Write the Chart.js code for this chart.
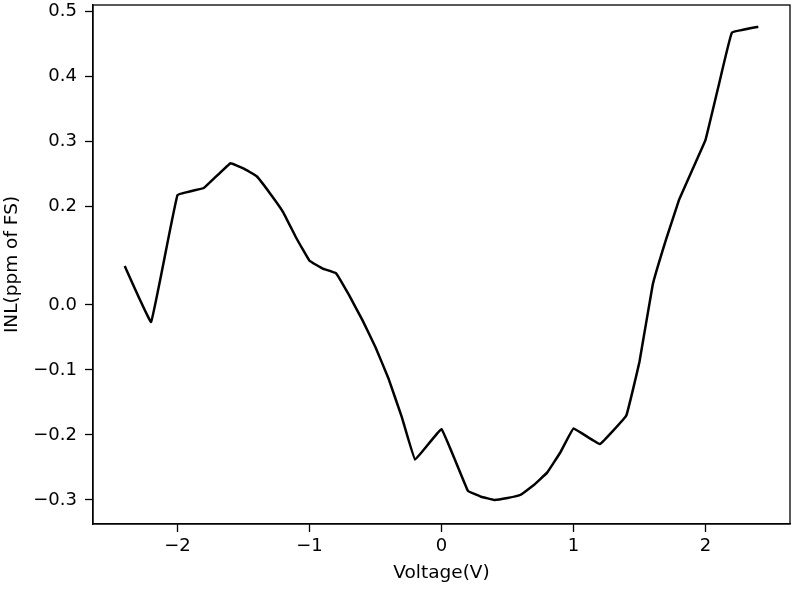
<!DOCTYPE html>
<html>
<head>
<meta charset="utf-8">
<script src="https://cdn.jsdelivr.net/npm/chart.js@4/dist/chart.umd.min.js"></script>
<style>
  html, body { margin: 0; padding: 0; background: #ffffff; }
  #wrap { width: 795px; height: 589px; }
</style>
</head>
<body>
<div id="wrap"><canvas id="inl"></canvas></div>
<script>
// voltage (V) and INL readings, y in the plot's own linear coordinate
const voltage = [-2.4, -2.2, -2.0, -1.8, -1.6, -1.5, -1.4, -1.3, -1.2, -1.1, -1.0, -0.9, -0.8, -0.7, -0.6, -0.5, -0.4, -0.3, -0.2, 0.0, 0.2, 0.3, 0.4, 0.5, 0.6, 0.7, 0.8, 0.9, 1.0, 1.2, 1.4, 1.5, 1.6, 1.7, 1.8, 1.9, 2.0, 2.1, 2.2, 2.4];
const inl = [0.060, -0.026, 0.169, 0.180, 0.218, 0.210, 0.198, 0.172, 0.143, 0.103, 0.068, 0.056, 0.049, 0.015, -0.023, -0.065, -0.114, -0.173, -0.238, -0.191, -0.286, -0.295, -0.300, -0.297, -0.292, -0.277, -0.258, -0.227, -0.190, -0.214, -0.170, -0.087, 0.031, 0.100, 0.162, 0.208, 0.254, 0.338, 0.419, 0.428];

// tick marks as printed on the original figure
const xTickValues = [-2, -1, 0, 1, 2];
const xTickLabels = ['\u22122', '\u22121', '0', '1', '2'];
const yTickValues = [-0.3, -0.2, -0.1, 0.0, 0.152, 0.252, 0.352, 0.452];
const yTickLabels = ['\u22120.3', '\u22120.2', '\u22120.1', '0.0', '0.2', '0.3', '0.4', '0.5'];

const points = voltage.map((v, i) => ({ x: v, y: inl[i] }));

const fontFamily = '"DejaVu Sans", sans-serif';

// draws the top and right spines like matplotlib's box
const frameBox = {
    id: 'frameBox',
    afterDraw(chart) {
        const { ctx, chartArea: a } = chart;
        ctx.save();
        ctx.strokeStyle = '#000';
        ctx.lineWidth = 1.3;
        ctx.strokeRect(a.left, a.top, a.right - a.left, a.bottom - a.top);
        ctx.restore();
    }
};

const pickLabel = (values, labels) => function (value) {
    const i = values.findIndex(t => Math.abs(t - value) < 1e-6);
    return i >= 0 ? labels[i] : '';
};

new Chart(document.getElementById('inl'), {
    type: 'line',
    data: {
        datasets: [{
            data: points,
            borderColor: '#000000',
            borderWidth: 2.5,
            pointRadius: 0,
            tension: 0.06,
            borderJoinStyle: 'round',
            fill: false
        }]
    },
    options: {
        responsive: true,
        maintainAspectRatio: false,
        animation: false,
        layout: { padding: { top: 5, right: 5, left: 0, bottom: 0 } },
        plugins: {
            legend: { display: false },
            tooltip: { enabled: false }
        },
        scales: {
            x: {
                type: 'linear',
                min: -2.64,
                max: 2.64,
                afterBuildTicks: s => { s.ticks = xTickValues.map(v => ({ value: v })); },
                afterFit: s => { s.height = 65; s.paddingLeft = 0; s.paddingRight = 0; },
                grid: { drawOnChartArea: false, tickLength: 8, tickColor: '#000', tickWidth: 1.3 },
                border: { color: '#000', width: 1.3 },
                ticks: {
                    color: '#000',
                    padding: 4,
                    maxRotation: 0,
                    font: { family: fontFamily, size: 18 },
                    callback: pickLabel(xTickValues, xTickLabels)
                },
                title: {
                    display: true,
                    text: 'Voltage(V)',
                    color: '#000',
                    font: { family: fontFamily, size: 18.5 },
                    padding: { top: 0, bottom: 5 }
                }
            },
            y: {
                type: 'linear',
                min: -0.337,
                max: 0.4615,
                afterBuildTicks: s => { s.ticks = yTickValues.map(v => ({ value: v })); },
                afterFit: s => { s.width = 93; s.paddingTop = 0; s.paddingBottom = 0; },
                grid: { drawOnChartArea: false, tickLength: 8, tickColor: '#000', tickWidth: 1.3 },
                border: { color: '#000', width: 1.3 },
                ticks: {
                    color: '#000',
                    padding: 8,
                    font: { family: fontFamily, size: 18 },
                    callback: pickLabel(yTickValues, yTickLabels)
                },
                title: {
                    display: true,
                    text: 'INL(ppm of FS)',
                    color: '#000',
                    font: { family: fontFamily, size: 18.5 },
                    padding: { top: 1, bottom: 0 }
                }
            }
        }
    },
    plugins: [frameBox]
});
</script>
</body>
</html>
